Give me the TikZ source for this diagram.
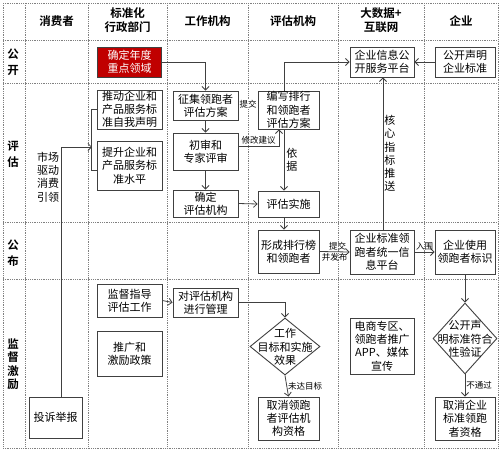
\documentclass[tikz,border=0pt]{standalone}
\usepackage{fontspec}
\newfontfamily\cjk{Noto Sans CJK SC}[BoldFont={Noto Sans CJK SC Bold}]
\usetikzlibrary{shapes.geometric,arrows.meta}
\definecolor{darkred}{HTML}{C00000}
\definecolor{edge}{HTML}{404040}

\begin{document}
\begin{tikzpicture}[x=1pt,y=-1pt]
\tikzset{box/.style={draw=edge,line width=0.9pt,align=center,inner sep=0pt,font=\cjk\fontsize{11}{13.3}\selectfont}}
\tikzset{dec/.style={draw=edge,line width=0.9pt,diamond,inner sep=0pt,aspect=1}}
\tikzset{head/.style={align=center,inner sep=0pt,font=\cjk\bfseries\fontsize{11.5}{14}\selectfont}}
\tikzset{rowlab/.style={align=center,inner sep=0pt,font=\cjk\bfseries\fontsize{11.5}{15.5}\selectfont}}
\tikzset{txt/.style={align=center,inner sep=0pt,font=\cjk\fontsize{11}{13.3}\selectfont}}
\tikzset{tag/.style={font=\cjk\fontsize{8.5}{10}\selectfont,inner sep=1pt}}
\tikzset{wire/.style={draw=edge,line width=0.8pt}}
\tikzset{flow/.style={wire,-{Straight Barb[length=3.5pt,width=7pt]}}}
\tikzset{grid/.style={draw=gray,densely dotted,line width=0.8pt}}

\useasboundingbox (0,0) rectangle (500,450);
\foreach \y in {3,40,83,222,279,448} \draw[grid] (3,\y) -- (498,\y);
\foreach \x in {3,25,88,167,248,338,424,498} \draw[grid] (\x,3) -- (\x,448);

\node[head] (hc) at (56.5,21) {消费者};
\node[head] (hs) at (127.5,20) {标准化\\行政部门};
\node[head] (hw) at (207.5,21) {工作机构};
\node[head] (hp) at (293,21) {评估机构};
\node[head] (hb) at (381,20) {大数据+\\互联网};
\node[head] (he) at (461,21) {企业};
\node[rowlab] (r1) at (13,62) {公\\开};
\node[rowlab] (r2) at (13,154) {评\\估};
\node[rowlab] (r3) at (13,253) {公\\布};
\node[rowlab,font=\cjk\bfseries\fontsize{11.5}{13.5}\selectfont] (r4) at (13,364) {监\\督\\激\\励};

\node[box,fill=darkred,text=white,minimum width=64,minimum height=30] (focus) at (129.5,62) {确定年度\\重点领域};
\node[box,minimum width=64,minimum height=30] (pubplat) at (382,62) {企业信息公\\开服务平台};
\node[box,minimum width=60,minimum height=30] (decl) at (465,62) {公开声明\\企业标准};

\node[txt] (market) at (48,177) {市场\\驱动\\消费\\引领};
\node[box,minimum width=65,minimum height=39] (push) at (129.5,109.5) {推动企业和\\产品服务标\\准自我声明};
\node[box,minimum width=65,minimum height=49] (raise) at (129.5,165.5) {提升企业和\\产品服务标\\准水平};
\node[box,minimum width=65,minimum height=29] (solicit) at (205.5,105.5) {征集领跑者\\评估方案};
\node[box,minimum width=65,minimum height=37] (review) at (205.5,151.5) {初审和\\专家评审};
\node[box,minimum width=65,minimum height=27] (pick) at (205.5,203.5) {确定\\评估机构};
\node[box,minimum width=61,minimum height=38] (draft) at (288.5,110) {编写排行\\和领跑者\\评估方案};
\node[box,minimum width=61,minimum height=26] (exec) at (288.5,204) {评估实施};

\node[box,minimum width=61,minimum height=43] (rank) at (288.5,251.5) {形成排行榜\\和领跑者};
\node[box,minimum width=64,minimum height=44] (unified) at (382,252) {企业标准领\\跑者统一信\\息平台};
\node[box,minimum width=60,minimum height=44] (uselogo) at (465,252) {企业使用\\领跑者标识};

\node[box,minimum width=65,minimum height=33] (guide) at (129.5,300.5) {监督指导\\评估工作};
\node[box,minimum width=65,minimum height=45] (promo) at (129.5,353.5) {推广和\\激励政策};
\node[box,minimum width=65,minimum height=29] (manage) at (205.5,302.5) {对评估机构\\进行管理};
\node[dec,minimum width=70,minimum height=57] (goal) at (285,346.5) {};
\node[txt] (goaltxt) at (285,347) {工作\\目标和实施\\效果};
\node[box,minimum width=61,minimum height=43] (revoke) at (288.5,418.5) {取消领跑\\者评估机\\构资格};
\node[box,minimum width=64,minimum height=56] (media) at (382,346) {电商专区、\\领跑者推广\\APP、媒体\\宣传};
\node[dec,minimum width=64,minimum height=71] (verify) at (465,338.5) {};
\node[txt] (verifytxt) at (465,339) {公开声\\明标准符合\\性验证};
\node[box,minimum width=60,minimum height=43] (revokeent) at (465,418.5) {取消企业\\标准领跑\\者资格};
\node[box,minimum width=53,minimum height=41] (report) at (55.5,417.5) {投诉举报};

\coordinate (brace) at (92,147);
\draw[flow] (focus.east) -| (solicit.north);
\draw[flow] (decl.west) -- (pubplat.east);
\draw[flow] ([xshift=-4.5pt]draft.north) |- (pubplat.west);
\draw[flow] ([xshift=1pt]unified.north) -- ([xshift=1pt]pubplat.south) node[txt,midway,right=1pt] {核\\心\\指\\标\\推\\送};
\draw[flow] ([yshift=5.5pt]draft.west) -- ([yshift=5.5pt]draft.west -| solicit.east) node[tag,midway,fill=white] {提交};
\draw[flow] ([yshift=5.5pt]review.east) -| ([xshift=-9.5pt]draft.south) node[tag,pos=0.25,above] {修改建议};
\draw[flow] ([xshift=-4.5pt]draft.south) -- ([xshift=-4.5pt]exec.north) node[txt,midway,right=2pt] {依\\据};
\draw[flow] (review) -- (pick);
\draw[flow] (solicit) -- (review);
\draw[flow] (pick.east) -- (exec.west);
\draw[flow] ([xshift=-4.5pt]exec.south) -- ([xshift=-4.5pt]rank.north);
\draw[flow] (rank.east) -- (unified.west) node[tag,pos=0.6,above] {提交} node[tag,pos=0.5,below] {并发布};
\draw[flow] (unified.east) -- (uselogo.west) node[tag,midway,above] {入围};
\draw[flow] (uselogo.south) -- (verify.north);
\draw[flow] (verify.south) -- (revokeent.north) node[tag,midway,right] {不通过};
\draw[flow] (guide.east) -- (manage.west);
\draw[flow] (manage.east) -| (goal.north);
\draw[flow] (goal.south) -- (revoke.north) node[tag,midway,right] {未达目标};
\draw[flow] ([xshift=5.5pt]report.north) |- (brace);
\draw[wire] (push.west) -- ++(-5,0) |- ([yshift=-4.5pt]raise.west);
\end{tikzpicture}
\end{document}
